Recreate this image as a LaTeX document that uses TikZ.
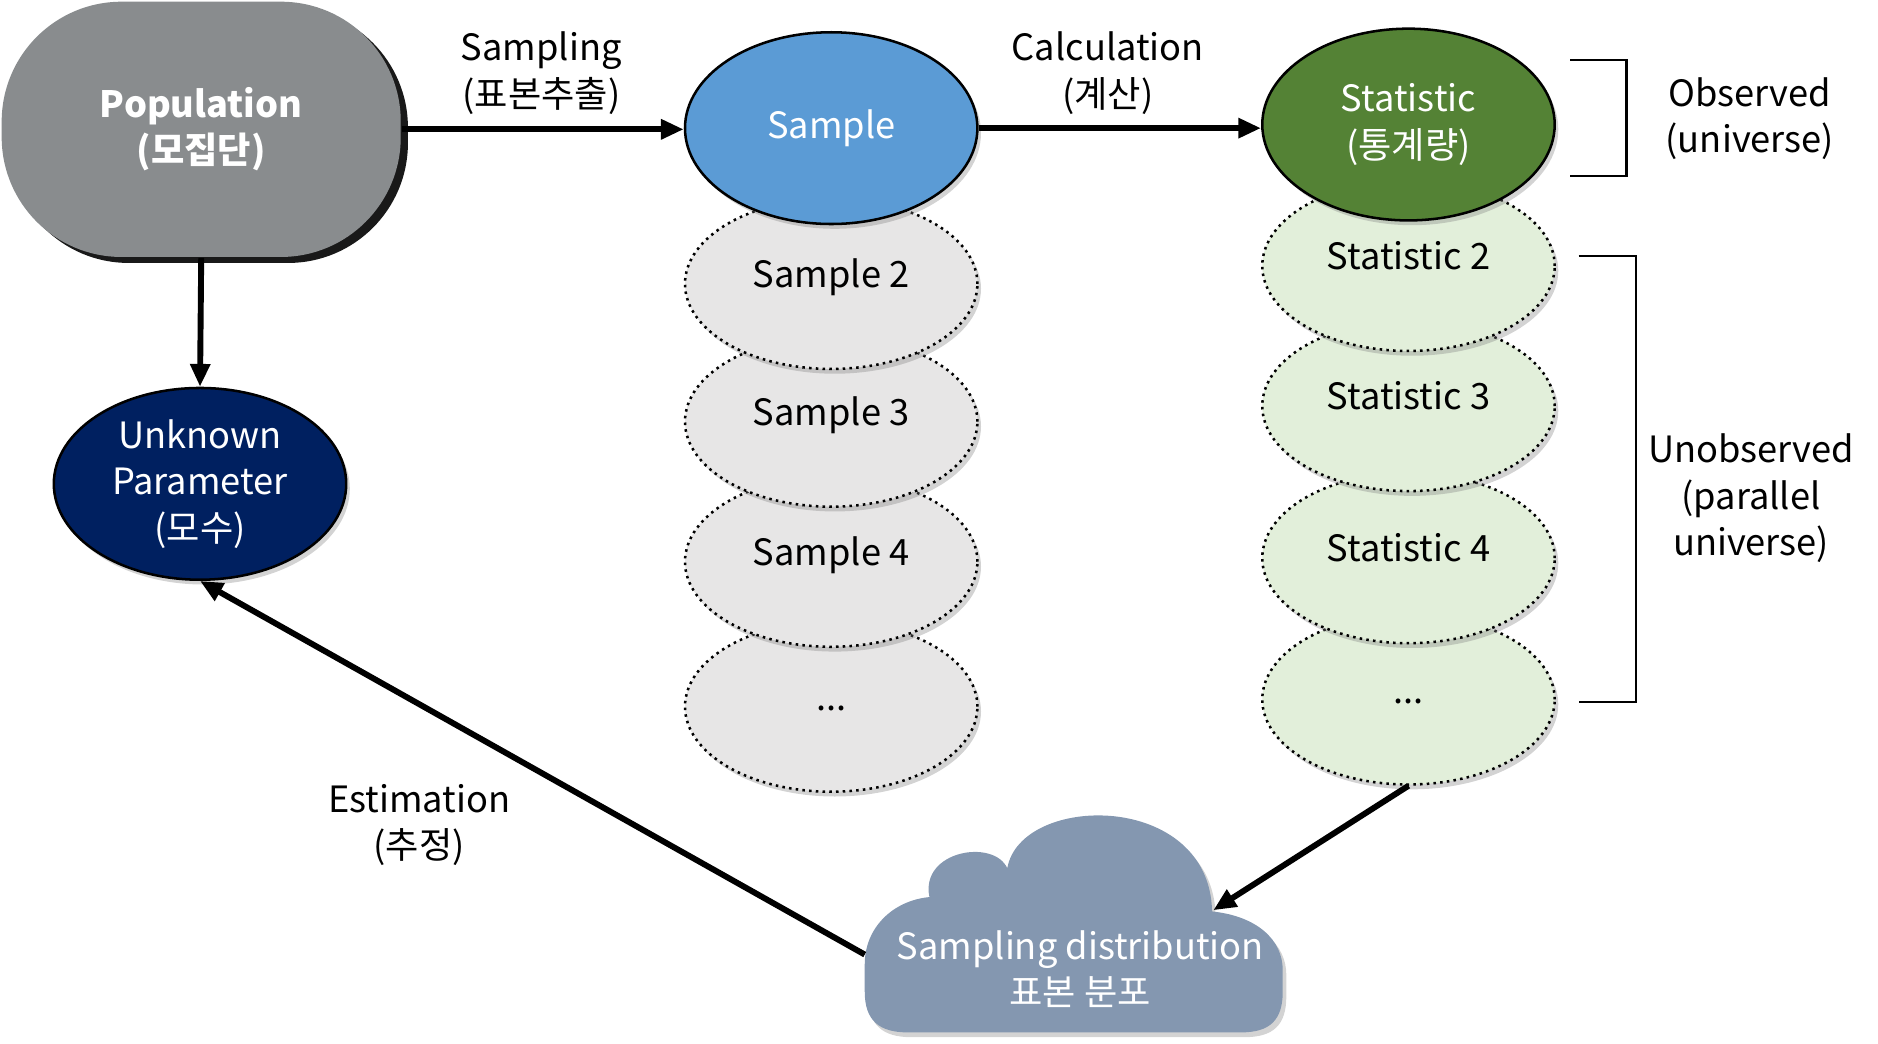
\documentclass[tikz,border=0pt]{standalone}
\usepackage{fontspec}
\setmainfont{Noto Sans CJK KR}
\usetikzlibrary{shapes.geometric,shadows,arrows.meta}

\definecolor{popgray}{HTML}{898C8E}
\definecolor{sampleblue}{HTML}{5B9BD5}
\definecolor{samplegray}{HTML}{E7E6E6}
\definecolor{statgreen}{HTML}{548235}
\definecolor{statlight}{HTML}{E2EFDA}
\definecolor{paramnavy}{HTML}{002060}
\definecolor{cloudblue}{HTML}{8497B0}

\tikzset{
  blob/.style={ellipse, minimum width=2.44cm, minimum height=1.6cm, inner sep=0pt, align=center},
  softshadow/.style={drop shadow={opacity=0.35, shadow xshift=0.03cm, shadow yshift=-0.04cm}},
  mainblob/.style={blob, draw=black, line width=0.6pt, text=white, softshadow},
  spareblob/.style={blob, minimum height=1.42cm, draw=black, densely dotted, line width=0.6pt,
    text height=0.22cm, text depth=0.16cm, softshadow},
  flow/.style={-{Triangle[length=0.19cm,width=0.16cm]}, line width=1.4pt},
  lbl/.style={align=center},
  bracketline/.style={line width=0.5pt}
}

\begin{document}
\begin{tikzpicture}[x=0.01cm, y=-0.01cm,
  every node/.style={font=\fontsize{8.6}{11}\selectfont}]
\useasboundingbox (0,0) rectangle (1568,871);

% Population and parameter
\node[rectangle, rounded corners=1cm, minimum width=3.33cm, minimum height=2.13cm,
  fill=popgray, text=white, align=center, font=\fontsize{8.6}{11}\selectfont\bfseries,
  drop shadow={opacity=0.9, fill=black, shadow xshift=0.06cm, shadow yshift=-0.05cm}]
  (pop) at (168,108) {Population\\(모집단)};
\node[mainblob, fill=paramnavy] (param) at (167,404) {Unknown\\Parameter\\(모수)};

% Samples (bottom first)
\node[spareblob, fill=samplegray] (sdots) at (694,590) {...};
\node[spareblob, fill=samplegray] (s4) at (694,469) {Sample 4};
\node[spareblob, fill=samplegray] (s3) at (694,352) {Sample 3};
\node[spareblob, fill=samplegray] (s2) at (694,237) {Sample 2};
\node[mainblob, fill=sampleblue] (sample) at (694,107) {Sample};

% Statistics (bottom first)
\node[spareblob, fill=statlight] (tdots) at (1176,584) {...};
\node[spareblob, fill=statlight] (t4) at (1176,466) {Statistic 4};
\node[spareblob, fill=statlight] (t3) at (1176,339) {Statistic 3};
\node[spareblob, fill=statlight] (t2) at (1176,222) {Statistic 2};
\node[mainblob, fill=statgreen] (stat) at (1176,104) {Statistic\\(통계량)};

% Sampling distribution cloud
\fill[cloudblue, softshadow] (776,749)
  .. controls (768,710) and (830,700) .. (841,725)
  .. controls (852,662) and (1010,660) .. (1012,761)
  .. controls (1050,765) and (1071,785) .. (1071,810)
  -- (1071,828) .. controls (1071,852) and (1060,862) .. (1036,862)
  -- (758,862) .. controls (734,862) and (722,852) .. (722,828)
  -- (722,805) .. controls (722,775) and (745,752) .. (776,749) -- cycle;
\node[lbl, text=white] (dist) at (902,809) {Sampling distribution\\표본 분포};
\coordinate (dist in) at (1013,760);
\coordinate (dist out) at (722,797);

% Brackets
\draw[bracketline] (1311,50) -- (1358,50) -- (1358,147) -- (1311,147);
\draw[bracketline] (1318,214) -- (1366,214) -- (1366,586) -- (1318,586);
\node[lbl] (obs) at (1461,99) {Observed\\(universe)};
\node[lbl] (unobs) at (1462,416) {Unobserved\\(parallel\\universe)};

% Arrows
\draw[flow] (pop.east) -- (pop.east -| sample.west);
\node[lbl] (sampling) at (452,61) {Sampling\\(표본추출)};
\draw[flow] (sample.east) -- (sample.east -| stat.west);
\node[lbl] (calc) at (925,61) {Calculation\\(계산)};
\draw[flow] (pop.south) -- (param.north);
\draw[flow] (tdots.south) -- (dist in);
\draw[flow] (dist out) -- (param.south);
\node[lbl] (est) at (350,689) {Estimation\\(추정)};
\end{tikzpicture}
\end{document}
